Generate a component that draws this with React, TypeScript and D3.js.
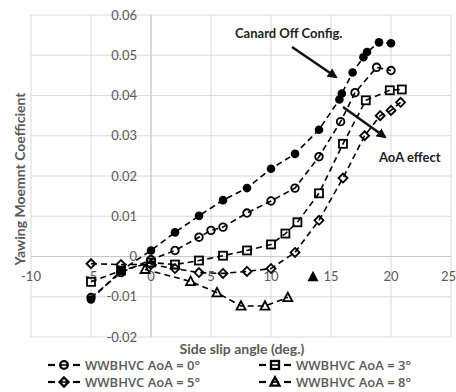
import * as React from "react";
import * as d3 from "d3";

// side slip (deg) / yawing moment coefficient
const canardOff: [number, number][] = [
  [-5, -0.0107], [-2.5, -0.0035], [0, 0.0015], [2, 0.006], [4, 0.0101],
  [6, 0.014], [8, 0.017], [10, 0.0218], [12, 0.0255], [14, 0.0315],
  [15.7, 0.039], [15.9, 0.0405], [16.8, 0.0457], [17.7, 0.0495],
  [18, 0.0508], [19, 0.0532], [20, 0.053],
];
const aoa0: [number, number][] = [
  [-5, -0.0102], [-2.5, -0.004], [0, -0.0008], [2, 0.0015], [4, 0.0048],
  [5, 0.0065], [6, 0.0073], [8, 0.0108], [10, 0.0138], [12, 0.017],
  [14, 0.0248], [15.8, 0.0335], [17, 0.0407], [18.8, 0.047], [20, 0.0462],
];
const aoa3: [number, number][] = [
  [-5, -0.0063], [-2.5, -0.0035], [0, -0.0015], [2, -0.002], [4, -0.001],
  [6, 0.0002], [8, 0.0015], [10, 0.003], [11.2, 0.0057], [12.2, 0.0085],
  [14, 0.0157], [16, 0.028], [17.9, 0.0388], [19.9, 0.0413], [20.9, 0.0415],
];
const aoa5: [number, number][] = [
  [-5, -0.0018], [-2.5, -0.002], [0, -0.002], [2, -0.003], [4, -0.004],
  [6, -0.0042], [8, -0.0037], [10, -0.003], [12, 0.001], [14, 0.009],
  [16, 0.0195], [17.8, 0.03], [19.1, 0.035], [20, 0.0363], [20.8, 0.0383],
];
const aoa8: [number, number][] = [
  [-0.5, -0.0032], [3.3, -0.0062], [5.5, -0.009], [7.5, -0.0123],
  [9.5, -0.0123], [11.4, -0.0102],
];
const lonePoint: [number, number][] = [[13.5, -0.005]];

const xTicks = [-10, -5, 0, 5, 10, 15, 20, 25];
const yTicks = [-0.02, -0.01, 0, 0.01, 0.02, 0.03, 0.04, 0.05, 0.06];

const legendNames = [
  "WWBHVC AoA = 0°",
  "WWBHVC AoA = 3°",
  "WWBHVC AoA = 5°",
  "WWBHVC AoA = 8°",
];

const W = 456;
const H = 392;
const grey = "#595959";
const font = "Lato, 'Open Sans', sans-serif";
const legendFont = "'Open Sans', Lato, sans-serif";

function drawMarker(g, shape, x, y, sw = 1.8) {
  const s = g.append("g").attr("transform", `translate(${x},${y})`);
  const common = (el) =>
    el.attr("fill", "none").attr("stroke", "#000").attr("stroke-width", sw);
  if (shape === "filled") {
    s.append("circle").attr("r", 4.3).attr("fill", "#000");
  } else if (shape === "circle") {
    common(s.append("circle").attr("r", 3.8));
  } else if (shape === "square") {
    common(s.append("rect").attr("x", -4).attr("y", -4).attr("width", 8).attr("height", 8));
  } else if (shape === "diamond") {
    common(s.append("path").attr("d", "M0,-4.5L4.5,0L0,4.5L-4.5,0Z"));
  } else if (shape === "triangle") {
    common(s.append("path").attr("d", "M0,-4.8L4.5,3.6L-4.5,3.6Z"));
  } else if (shape === "filledTriangle") {
    s.append("path").attr("d", "M0,-6L5.5,4.5L-5.5,4.5Z").attr("fill", "#000");
  }
}

export default function App() {
  const ref = React.useRef(null);

  React.useEffect(() => {
    const svg = d3.select(ref.current);
    svg.selectAll("*").remove();

    const x = d3.scaleLinear().domain([-10, 25]).range([31, 451]);
    const y = d3.scaleLinear().domain([-0.02, 0.06]).range([337, 15]);

    const defs = svg.append("defs");
    defs
      .append("marker")
      .attr("id", "arrow")
      .attr("viewBox", "0 0 10 10")
      .attr("refX", 8)
      .attr("refY", 5)
      .attr("markerWidth", 4)
      .attr("markerHeight", 4)
      .attr("orient", "auto")
      .append("path")
      .attr("d", "M0,0L10,5L0,10Z")
      .attr("fill", "#111");

    // grid
    const grid = svg.append("g");
    grid
      .selectAll(".vx")
      .data(xTicks)
      .enter()
      .append("line")
      .attr("x1", (d) => x(d))
      .attr("x2", (d) => x(d))
      .attr("y1", y(-0.02))
      .attr("y2", y(0.06))
      .attr("stroke", "#d9d9d9");
    grid
      .selectAll(".hy")
      .data(yTicks)
      .enter()
      .append("line")
      .attr("x1", x(-10))
      .attr("x2", x(25))
      .attr("y1", (d) => y(d))
      .attr("y2", (d) => y(d))
      .attr("stroke", "#d9d9d9");
    grid
      .append("line")
      .attr("x1", x(0)).attr("x2", x(0))
      .attr("y1", y(-0.02)).attr("y2", y(0.06))
      .attr("stroke", "#c8c8c8");
    grid
      .append("line")
      .attr("x1", x(-10)).attr("x2", x(25))
      .attr("y1", y(0)).attr("y2", y(0))
      .attr("stroke", "#c8c8c8");

    // tick labels, axes cross at zero
    svg
      .append("g")
      .selectAll("text")
      .data(yTicks)
      .enter()
      .append("text")
      .attr("x", x(0) - 14)
      .attr("y", (d) => y(d))
      .attr("dy", "0.35em")
      .attr("text-anchor", "end")
      .attr("font-family", font)
      .attr("font-size", 13)
      .attr("fill", grey)
      .text((d) => (d === 0 ? "0" : d.toFixed(2)));
    svg
      .append("g")
      .selectAll("text")
      .data(xTicks)
      .enter()
      .append("text")
      .attr("x", (d) => (d === 25 ? W : x(d)))
      .attr("y", y(0) + 20)
      .attr("dy", "0.35em")
      .attr("text-anchor", (d) => (d === 25 ? "end" : "middle"))
      .attr("font-family", font)
      .attr("font-size", 13)
      .attr("fill", grey)
      .text((d) => d);

    // series
    const line = d3
      .line()
      .x((d) => x(d[0]))
      .y((d) => y(d[1]));
    const series = [
      { data: canardOff, shape: "filled" },
      { data: aoa0, shape: "circle" },
      { data: aoa3, shape: "square" },
      { data: aoa5, shape: "diamond" },
      { data: aoa8, shape: "triangle" },
    ];
    series.forEach((s) => {
      svg
        .append("path")
        .attr("d", line(s.data))
        .attr("fill", "none")
        .attr("stroke", "#000")
        .attr("stroke-width", 1.6)
        .attr("stroke-dasharray", "6,4");
    });
    series.forEach((s) => {
      const g = svg.append("g");
      s.data.forEach((d) => drawMarker(g, s.shape, x(d[0]), y(d[1])));
    });
    lonePoint.forEach((d) => drawMarker(svg, "filledTriangle", x(d[0]), y(d[1])));

    // annotations
    const ann = svg.append("g").attr("font-family", font).attr("font-weight", 700)
      .attr("font-size", 13).attr("fill", "#222");
    ann.append("text").attr("x", 235).attr("y", 38).text("Canard Off Config.");
    ann.append("text").attr("x", 379).attr("y", 162).text("AoA effect");
    svg
      .append("line")
      .attr("x1", 292).attr("y1", 47).attr("x2", 336).attr("y2", 77)
      .attr("stroke", "#111").attr("stroke-width", 2.5)
      .attr("marker-end", "url(#arrow)");
    svg
      .append("line")
      .attr("x1", 343).attr("y1", 107).attr("x2", 385).attr("y2", 137)
      .attr("stroke", "#111").attr("stroke-width", 2.5)
      .attr("marker-end", "url(#arrow)");

    // axis titles
    svg
      .append("text")
      .attr("transform", `translate(25,${(y(-0.02) + y(0.06)) / 2 + 3}) rotate(-90)`)
      .attr("text-anchor", "middle")
      .attr("font-family", font)
      .attr("font-weight", 700)
      .attr("font-size", 14)
      .attr("fill", grey)
      .text("Yawing Moemnt Coefficient");
    svg
      .append("text")
      .attr("x", (x(-10) + x(25)) / 2 + 1)
      .attr("y", 354)
      .attr("text-anchor", "middle")
      .attr("font-family", font)
      .attr("font-weight", 700)
      .attr("font-size", 14)
      .attr("fill", grey)
      .text("Side slip angle (deg.)");

    // legend
    const shapes = ["circle", "square", "diamond", "triangle"];
    const legend = svg.append("g");
    legendNames.forEach((name, i) => {
      const lx = i % 2 === 0 ? 48 : 259;
      const ly = i < 2 ? 365 : 382;
      [[lx, lx + 7], [lx + 25, lx + 32]].forEach(([a, b]) => {
        legend
          .append("line")
          .attr("x1", a).attr("x2", b)
          .attr("y1", ly).attr("y2", ly)
          .attr("stroke", "#000").attr("stroke-width", 2.2);
      });
      drawMarker(legend, shapes[i], lx + 16, ly, 2.3);
      legend
        .append("line")
        .attr("x1", lx + 12).attr("x2", lx + 20)
        .attr("y1", ly).attr("y2", ly)
        .attr("stroke", "#000").attr("stroke-width", 1.6);
      legend
        .append("text")
        .attr("x", lx + 37)
        .attr("y", ly)
        .attr("dy", "0.35em")
        .attr("font-family", legendFont)
        .attr("font-weight", 600)
        .attr("font-size", 13)
        .attr("fill", grey)
        .text(name);
    });
  }, []);

  return (
    <svg
      ref={ref}
      width={W}
      height={H}
      style={{ position: "absolute", left: 0, top: 0, background: "#fff" }}
    />
  );
}
